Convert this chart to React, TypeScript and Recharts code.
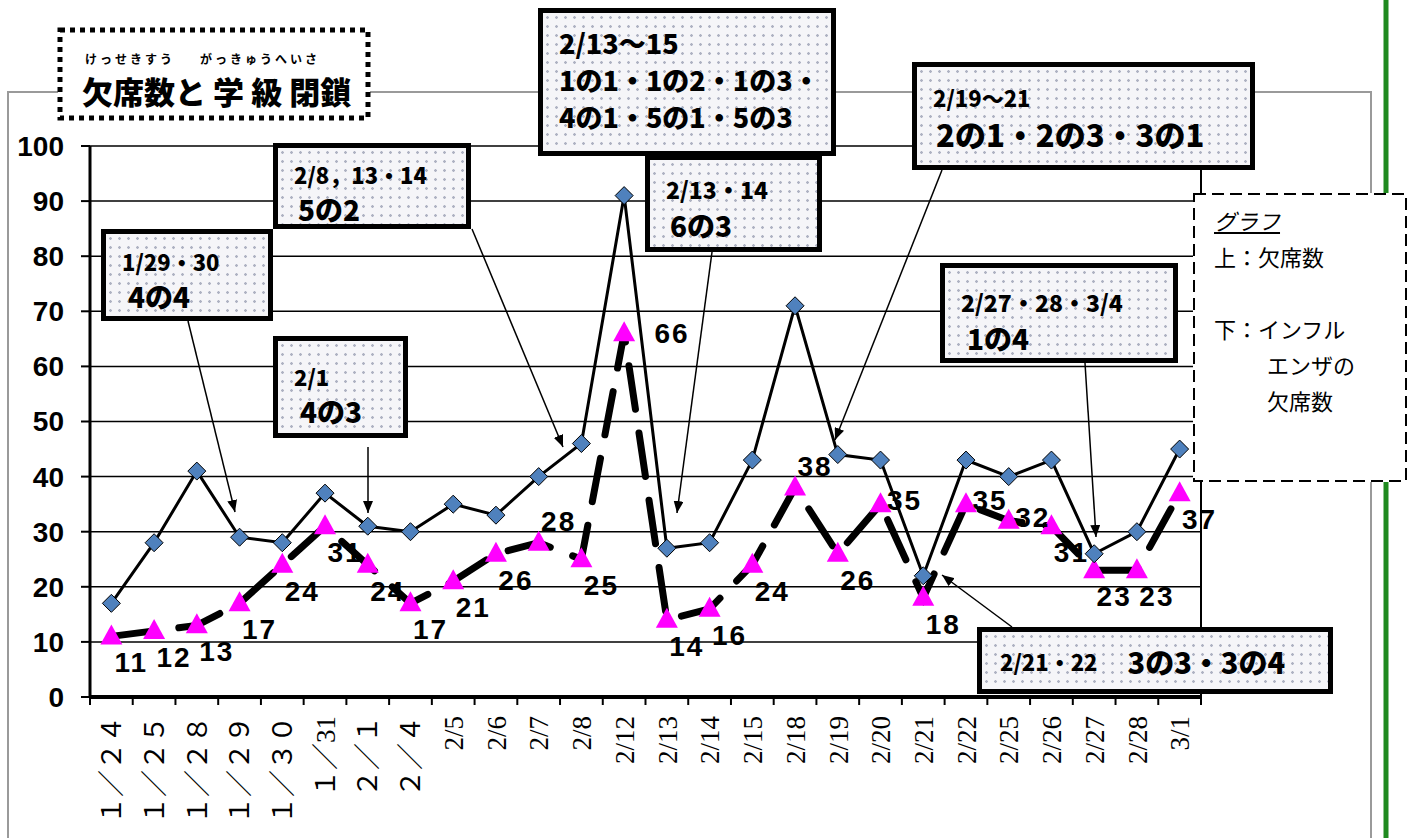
import { LineChart, Line, XAxis, YAxis, CartesianGrid, LabelList } from "recharts";

const dates = [
  "１／２４", "１／２５", "１／２８", "１／２９", "１／３０", "１／31", "２／１", "２／４",
  "2/5", "2/6", "2/7", "2/8", "2/12", "2/13", "2/14", "2/15", "2/18", "2/19",
  "2/20", "2/21", "2/22", "2/25", "2/26", "2/27", "2/28", "3/1",
];

// 上：欠席数
const absences = [
  17, 28, 41, 29, 28, 37, 31, 30, 35, 33, 40, 46, 91, 27, 28, 43, 71, 44, 43, 22, 43, 40, 43, 26, 30, 45,
];

// 下：インフルエンザの欠席数
const fluAbsences = [
  11, 12, 13, 17, 24, 31, 24, 17, 21, 26, 28, 25, 66, 14, 16, 24, 38, 26, 35, 18, 35, 32, 31, 23, 23, 37,
];

const yTicks = [0, 10, 20, 30, 40, 50, 60, 70, 80, 90, 100];

const data = dates.map((date, i) => ({ date, absent: absences[i], flu: fluAbsences[i] }));

const W = 1415;
const H = 838;
const PLOT_LEFT = 90;
const PLOT_RIGHT = 1201;
const BAND = (PLOT_RIGHT - PLOT_LEFT) / dates.length;

const popFont = '"Noto Sans CJK JP", sans-serif';
const numFont = '"Liberation Sans", Arial, sans-serif';
const serifFont = '"Liberation Serif", "Noto Sans CJK JP", serif';

// where a flu label sits relative to its point (default: below right)
const labelSpots: Record<number, string> = {
  10: "up",
  12: "far",
  16: "up",
  18: "right",
  20: "right",
  21: "right",
};

const dotted =
  "radial-gradient(circle, #aeb2c2 1px, transparent 1.6px) 0 0 / 9px 9px, #f5f5f8";

function XTick(props: any) {
  const { x, y, payload, index } = props;
  const ty = y + 19;
  return (
    <g>
      <line x1={x - BAND / 2} x2={x - BAND / 2} y1={y} y2={y + 8} stroke="#000" strokeWidth={2} />
      {index === dates.length - 1 && (
        <line x1={x + BAND / 2} x2={x + BAND / 2} y1={y} y2={y + 8} stroke="#000" strokeWidth={2} />
      )}
      <text
        x={x}
        y={ty}
        dy="0.36em"
        transform={`rotate(-90 ${x} ${ty})`}
        textAnchor="end"
        fontFamily={serifFont}
        fontSize={27}
        fill="#000"
      >
        {payload.value}
      </text>
    </g>
  );
}

const renderDiamond = (p: any) => {
  const { cx, cy, index } = p;
  return (
    <polygon
      key={`d${index}`}
      points={`${cx},${cy - 9} ${cx + 9},${cy} ${cx},${cy + 9} ${cx - 9},${cy}`}
      fill="#4F81BD"
      stroke="#000"
      strokeWidth={1}
    />
  );
};

const renderTriangle = (p: any) => {
  const { cx, cy, index } = p;
  return (
    <polygon
      key={`t${index}`}
      points={`${cx},${cy - 12} ${cx + 11},${cy + 8} ${cx - 11},${cy + 8}`}
      fill="#FF00FF"
    />
  );
};

const renderFluLabel = (p: any) => {
  const { x, y, value, index } = p;
  const spot = labelSpots[index] ?? "below";
  let dx = 20;
  let dy = 36;
  if (spot === "up") dy = -12;
  if (spot === "right") {
    dx = 24;
    dy = 6;
  }
  if (spot === "far") {
    dx = 48;
    dy = 10;
  }
  return (
    <text
      key={`l${index}`}
      x={x + dx}
      y={y + dy}
      textAnchor="middle"
      fontFamily={numFont}
      fontWeight={700}
      fontSize={28}
      letterSpacing={2}
      fill="#000"
    >
      {value}
    </text>
  );
};

type NoteLine = { t: string; s: number; indent?: number };

function Note({ x, y, w, h, lines, padTop }: { x: number; y: number; w: number; h: number; lines: NoteLine[]; padTop: number }) {
  return (
    <div
      style={{
        position: "absolute",
        left: x,
        top: y,
        width: w,
        height: h,
        boxSizing: "border-box",
        border: "5px solid #000",
        background: dotted,
        fontFamily: popFont,
        fontWeight: 900,
        color: "#000",
        paddingTop: padTop,
        paddingLeft: 16,
        whiteSpace: "nowrap",
      }}
    >
      {lines.map((l, i) => (
        <div key={i} style={{ fontSize: l.s, lineHeight: `${l.s + 10}px`, paddingLeft: l.indent ?? 0 }}>
          {l.t}
        </div>
      ))}
    </div>
  );
}

const kana: React.CSSProperties = {
  position: "absolute",
  top: 24,
  fontSize: 12,
  fontWeight: 700,
  lineHeight: "13px",
  letterSpacing: 3,
};

export default function App() {
  return (
    <div style={{ position: "relative", width: W, height: H, background: "#fff", overflow: "hidden" }}>
      <style>{`body{margin:0}`}</style>

      {/* outer frame */}
      <svg width={W} height={H} style={{ position: "absolute", left: 0, top: 0 }}>
        <polyline points={`8,${H} 8,92 1371,92 1371,${H}`} fill="none" stroke="#9a9a9a" strokeWidth={2} />
        <line x1={1386} x2={1386} y1={0} y2={H} stroke="#1f8a1f" strokeWidth={5} />
      </svg>

      <div style={{ position: "absolute", left: 0, top: 0 }}>
        <LineChart width={W} height={H} data={data} margin={{ top: 146, right: 213, bottom: 21, left: 10 }}>
          <CartesianGrid vertical={false} stroke="#000" strokeWidth={1.5} />
          <XAxis
            dataKey="date"
            height={120}
            tickSize={0}
            tickMargin={0}
            interval={0}
            padding={{ left: BAND / 2, right: BAND / 2 }}
            tick={<XTick />}
            axisLine={{ stroke: "#000", strokeWidth: 4 }}
          />
          <YAxis
            domain={[0, 100]}
            ticks={yTicks}
            width={80}
            tickSize={9}
            tickMargin={17}
            tickLine={{ stroke: "#000", strokeWidth: 2 }}
            axisLine={{ stroke: "#000", strokeWidth: 3 }}
            tick={{ fill: "#000", fontSize: 28, fontWeight: 700, fontFamily: numFont }}
          />
          <YAxis
            yAxisId="r"
            orientation="right"
            domain={[0, 100]}
            width={1}
            tick={false}
            tickLine={false}
            axisLine={{ stroke: "#000", strokeWidth: 2 }}
          />
          <Line
            type="linear"
            dataKey="flu"
            stroke="#000"
            strokeWidth={7}
            strokeDasharray="44 24"
            strokeLinecap="round"
            dot={renderTriangle}
            activeDot={false}
            isAnimationActive={false}
          >
            <LabelList dataKey="flu" content={renderFluLabel} />
          </Line>
          <Line
            type="linear"
            dataKey="absent"
            stroke="#000"
            strokeWidth={3}
            dot={renderDiamond}
            activeDot={false}
            isAnimationActive={false}
          />
        </LineChart>
      </div>

      {/* title with furigana */}
      <div
        style={{
          position: "absolute",
          left: 58,
          top: 28,
          width: 312,
          height: 92,
          background: "#fff",
          fontFamily: popFont,
          fontWeight: 900,
          color: "#000",
          whiteSpace: "nowrap",
        }}
      >
        <span style={{ ...kana, left: 27 }}>けっせきすう</span>
        <span style={{ ...kana, left: 142 }}>がっきゅうへいさ</span>
        <span style={{ position: "absolute", left: 24, top: 47, fontSize: 31, lineHeight: "31px" }}>
          欠席数と 学 級 閉鎖
        </span>
      </div>

      <Note x={101} y={229} w={172} h={92} padTop={11} lines={[{ t: "1/29・30", s: 22 }, { t: "4の4", s: 28, indent: 6 }]} />
      <Note x={273} y={143} w={198} h={86} padTop={10} lines={[{ t: "2/8，13・14", s: 22 }, { t: "5の2", s: 28, indent: 4 }]} />
      <Note x={273} y={336} w={135} h={102} padTop={19} lines={[{ t: "2/1", s: 22 }, { t: "4の3", s: 28, indent: 6 }]} />
      <Note
        x={538}
        y={8}
        w={298}
        h={148}
        padTop={11}
        lines={[
          { t: "2/13〜15", s: 27 },
          { t: "1の1・1の2・1の3・", s: 27 },
          { t: "4の1・5の1・5の3", s: 27 },
        ]}
      />
      <Note x={645} y={155} w={177} h={97} padTop={13} lines={[{ t: "2/13・14", s: 23 }, { t: "6の3", s: 28, indent: 4 }]} />
      <Note x={912} y={62} w={343} h={108} padTop={14} lines={[{ t: "2/19〜21", s: 22 }, { t: "2の1・2の3・3の1", s: 31, indent: 3 }]} />
      <Note x={940} y={263} w={238} h={100} padTop={18} lines={[{ t: "2/27・28・3/4", s: 23 }, { t: "1の4", s: 28, indent: 6 }]} />
      <div
        style={{
          position: "absolute",
          left: 977,
          top: 627,
          width: 356,
          height: 67,
          boxSizing: "border-box",
          border: "5px solid #000",
          background: dotted,
          fontFamily: popFont,
          fontWeight: 900,
          display: "flex",
          alignItems: "center",
          paddingLeft: 18,
          whiteSpace: "nowrap",
        }}
      >
        <span style={{ fontSize: 22 }}>2/21・22</span>
        <span style={{ fontSize: 29, marginLeft: 30 }}>3の3・3の4</span>
      </div>

      {/* legend */}
      <div
        style={{
          position: "absolute",
          left: 1193,
          top: 193,
          width: 214,
          height: 289,
          background: "#fff",
          fontFamily: popFont,
          fontSize: 22,
          lineHeight: "36px",
          color: "#000",
          paddingTop: 9,
          paddingLeft: 21,
          boxSizing: "border-box",
          whiteSpace: "nowrap",
        }}
      >
        <div>
          <span style={{ textDecoration: "underline", fontStyle: "italic" }}>グラフ</span>
        </div>
        <div>上：欠席数</div>
        <div>&nbsp;</div>
        <div>下：インフル</div>
        <div style={{ paddingLeft: 53 }}>エンザの</div>
        <div style={{ paddingLeft: 53 }}>欠席数</div>
      </div>

      {/* borders and arrows */}
      <svg width={W} height={H} style={{ position: "absolute", left: 0, top: 0, pointerEvents: "none" }}>
        <defs>
          <marker id="ah" markerWidth={12} markerHeight={10} refX={12} refY={5} orient="auto" markerUnits="userSpaceOnUse">
            <path d="M0,0 L12,5 L0,10 z" fill="#000" />
          </marker>
        </defs>
        <rect x={60} y={30} width={308} height={88} fill="none" stroke="#000" strokeWidth={5} strokeDasharray="5 5" />
        <rect x={1194} y={194} width={212} height={287} fill="none" stroke="#000" strokeWidth={2} strokeDasharray="12 6" />
        <g stroke="#000" strokeWidth={1.5} markerEnd="url(#ah)">
          <line x1={188} y1={321} x2={235} y2={512} />
          <line x1={472} y1={229} x2={563} y2={447} />
          <line x1={368} y1={447} x2={368} y2={513} />
          <line x1={712} y1={252} x2={677} y2={513} />
          <line x1={942} y1={170} x2={835} y2={440} />
          <line x1={1085} y1={363} x2={1096} y2={537} />
          <line x1={1012} y1={627} x2={942} y2={575} />
        </g>
      </svg>
    </div>
  );
}
